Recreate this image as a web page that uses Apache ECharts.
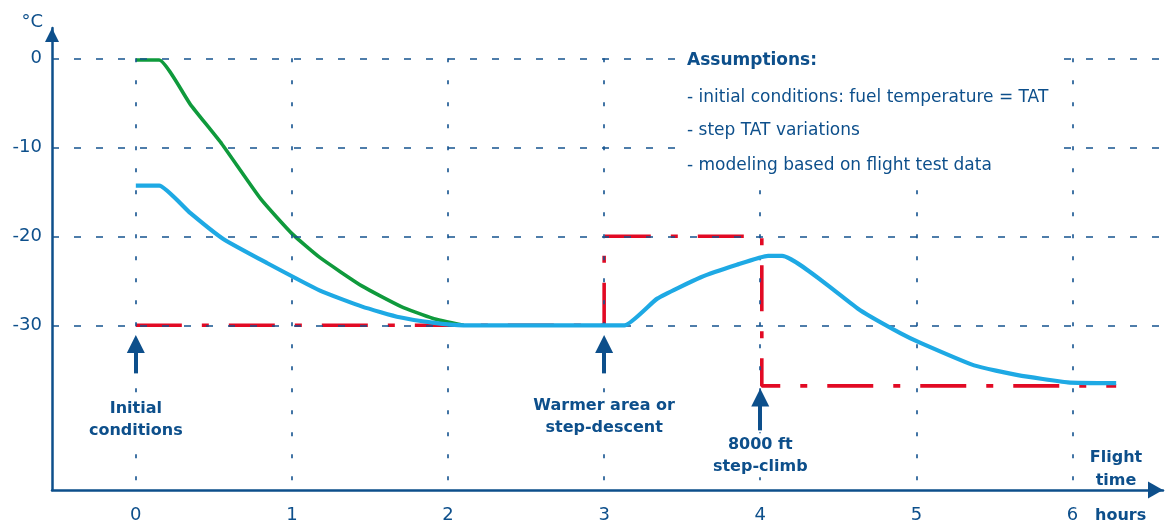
<!DOCTYPE html>
<html><head><meta charset="utf-8">
<script src="https://cdn.jsdelivr.net/npm/echarts@6/dist/echarts.min.js"></script>
<style>html,body{margin:0;padding:0;background:#fff}#c{width:1169px;height:525px}</style>
</head><body><div id="c"></div>
<script>
// ---- data ----
const hourTicks = [0, 1, 2, 3, 4, 5, 6];
const tempTicks = [0, -10, -20, -30];

const greenHours = [0, 0.15, 0.35, 0.55, 0.8, 1.0, 1.18, 1.45, 1.7, 1.9, 2.1];
const greenTemps = [-0.2, -0.2, -5.2, -9.6, -15.8, -19.7, -22.4, -25.6, -27.9, -29.2, -30.0];

const blueHours = [0, 0.15, 0.35, 0.56, 0.84, 1.18, 1.45, 1.69, 1.9, 2.1, 3.13, 3.34, 3.62, 3.85, 4.05, 4.14, 4.64, 4.9, 5.03, 5.37, 5.65, 5.97, 6.28];
const blueTemps = [-14.3, -14.3, -17.4, -20.3, -23.0, -26.1, -27.9, -29.1, -29.7, -30.0, -30.0, -27.0, -24.6, -23.2, -22.2, -22.2, -28.3, -30.9, -32.0, -34.5, -35.6, -36.4, -36.5];

const tatHours = [0, 3, 3, 4.01, 4.01, 6.28];
const tatTemps = [-30, -30, -20, -20, -36.8, -36.8];

const noteHours = [0, 3, 4];
const noteFrom = [-35.4, -35.4, -41.8];
const noteTo = [-32.1, -32.1, -38.1];
const noteTexts = ['Initial\nconditions', 'Warmer area or\nstep-descent', '8000 ft\nstep-climb'];

const assumptionLines = ['Assumptions:', '- initial conditions: fuel temperature = TAT', '- step TAT variations', '- modeling based on flight test data'];

const xMin = -0.537, xMax = 6.58, yMin = -48.5, yMax = 3.4;

// ---- styles ----
const NAVY = '#0d4f8b';
const FONT = 'DejaVu Sans';
const zip = (a, b) => a.map((v, i) => [v, b[i]]);

const chart = echarts.init(document.getElementById('c'), null, {renderer: 'canvas'});

const gridLines = [
  ...hourTicks.map(h => [{coord: [h, 0], lineStyle: {type: [4, 18]}}, {coord: [h, yMin]}]),
  ...tempTicks.map(t => [{coord: [xMin, t], lineStyle: {type: [7, 15]}}, {coord: [xMax, t]}])
];

const noteDist = [24, 21, 3];
const noteLines = noteHours.map((h, i) => [
  {coord: [h, noteFrom[i]], label: {formatter: noteTexts[i], distance: noteDist[i]}},
  {coord: [h, noteTo[i]]}
]);

const assumptionGraphics = assumptionLines.map((t, i) => ({
  type: 'text', left: 687, top: [52, 89, 122, 157][i], z: 101,
  style: {text: t, fill: NAVY, font: (i === 0 ? 'bold ' : '') + '17px "' + FONT + '"'}
}));

chart.setOption({
  animation: false,
  backgroundColor: '#fff',
  grid: {left: 52, right: 6, top: 28, bottom: 35, containLabel: false},
  xAxis: {
    type: 'value', min: xMin, max: xMax, minInterval: 1, maxInterval: 1,
    axisLine: {show: true, onZero: false, symbol: ['none', 'triangle'], symbolSize: [17, 15], symbolOffset: [0, -7.5],
      lineStyle: {color: NAVY, width: 2.5}},
    axisTick: {show: false},
    splitLine: {show: false},
    axisLabel: {
      showMinLabel: false, showMaxLabel: false, margin: 16,
      color: NAVY, fontFamily: FONT, fontSize: 18,
      formatter: v => hourTicks.includes(v) ? String(v) : ''
    }
  },
  yAxis: {
    type: 'value', min: yMin, max: yMax, minInterval: 10, maxInterval: 10,
    name: '°C', nameLocation: 'end', nameGap: -3,
    nameTextStyle: {color: NAVY, fontFamily: FONT, fontSize: 18, align: 'right', verticalAlign: 'bottom', padding: [0, 9, 0, 0]},
    axisLine: {show: true, onZero: false, symbol: ['none', 'triangle'], symbolSize: [14, 14], symbolOffset: [0, -7],
      lineStyle: {color: NAVY, width: 2.5}},
    axisTick: {show: false},
    splitLine: {show: false},
    axisLabel: {
      showMinLabel: false, showMaxLabel: false, margin: 10,
      color: NAVY, fontFamily: FONT, fontSize: 18,
      formatter: v => tempTicks.includes(v) ? String(v) : ''
    }
  },
  series: [
    {
      type: 'line', data: [], z: 1, silent: true,
      markLine: {silent: true, symbol: ['none', 'none'], label: {show: false}, animation: false,
        lineStyle: {color: '#15538f', width: 1.6}, data: gridLines}
    },
    {
      type: 'line', data: zip(tatHours, tatTemps), z: 3, showSymbol: false, silent: true,
      lineStyle: {color: '#e20a24', width: 3.6, type: [46, 20, 7, 20], cap: 'butt'}
    },
    {
      type: 'line', data: zip(greenHours, greenTemps), z: 4, showSymbol: false, silent: true, smooth: 0.15,
      lineStyle: {color: '#0f9a3c', width: 3.6}
    },
    {
      type: 'line', data: zip(blueHours, blueTemps), z: 5, showSymbol: false, silent: true, smooth: 0.15,
      lineStyle: {color: '#1ea9e4', width: 4.2}
    },
    {
      type: 'line', data: [], z: 6, silent: true,
      markLine: {silent: true, symbol: ['none', 'triangle'], symbolSize: 18, animation: false,
        lineStyle: {color: NAVY, width: 4, type: 'solid'},
        label: {show: true, position: 'start', color: NAVY, fontFamily: FONT, fontWeight: 'bold', fontSize: 16, lineHeight: 22, align: 'center',
          backgroundColor: '#fff', padding: [0, 3]},
        data: noteLines}
    }
  ],
  graphic: [
    {type: 'rect', left: 676, top: 42, z: 100, shape: {width: 386, height: 144}, style: {fill: '#fff'}},
    ...assumptionGraphics,
    {type: 'text', x: 1116, y: 446, z: 101, style: {text: 'Flight\ntime', fill: NAVY, font: 'bold 16px "' + FONT + '"', lineHeight: 23, align: 'center'}},
    {type: 'text', left: 1095, top: 508, z: 101, style: {text: 'hours', fill: NAVY, font: 'bold 16px "' + FONT + '"'}}
  ]
});
</script>
</body></html>
